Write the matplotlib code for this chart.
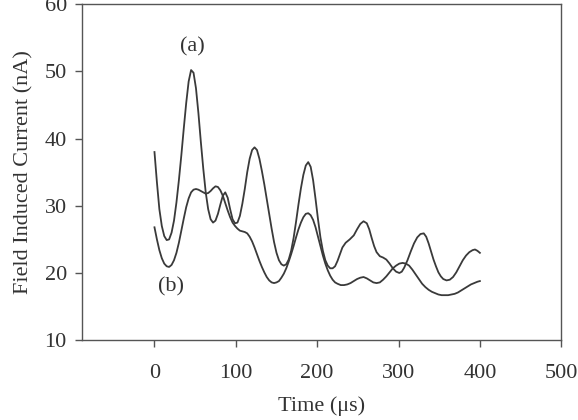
import matplotlib.pyplot as plt
import numpy as np

plt.rcParams['font.family'] = ['Liberation Serif', 'DejaVu Serif']

# curve (a)
t_a = [0, 3, 6, 9, 12, 15, 18, 21, 24, 27, 30, 33, 36, 39, 42, 45, 48, 51, 54, 57,
       60, 63, 66, 69, 72, 75, 78, 81, 84, 87, 90, 93, 96, 99, 102, 105, 108, 111,
       114, 117, 120, 123, 126, 129, 132, 135, 138, 141, 144, 147, 150, 153, 156,
       159, 162, 165, 168, 171, 174, 177, 180, 183, 186, 189, 192, 195, 198, 201,
       204, 207, 210, 213, 216, 219, 222, 225, 228, 231, 235, 240, 245, 249, 253,
       257, 261, 264, 267, 270, 273, 277, 281, 285, 289, 293, 297, 301, 304, 307,
       311, 315, 319, 323, 327, 331, 334, 337, 340, 343, 346, 349, 352, 355, 359,
       363, 367, 371, 375, 379, 383, 387, 391, 394, 397, 400]
i_a = [38.0, 33.5, 29.5, 27.0, 25.5, 24.9, 25.0, 26.0, 27.8, 30.5, 33.8, 37.5, 41.5,
       45.3, 48.5, 50.2, 49.8, 47.5, 43.8, 39.5, 35.5, 32.0, 29.5, 28.0, 27.5, 27.8,
       28.8, 30.2, 31.5, 32.0, 31.2, 29.5, 28.0, 27.4, 27.5, 28.5, 30.3, 32.5, 35.0,
       37.0, 38.3, 38.7, 38.3, 37.0, 35.2, 33.2, 31.0, 28.8, 26.6, 24.6, 23.0, 21.9,
       21.3, 21.1, 21.3, 22.0, 23.3, 25.2, 27.6, 30.2, 32.6, 34.6, 36.0, 36.5, 35.8,
       33.8, 31.0, 28.0, 25.3, 23.3, 21.9, 21.1, 20.7, 20.7, 21.0, 21.8, 22.8, 23.8,
       24.5, 25.0, 25.6, 26.5, 27.3, 27.7, 27.4, 26.5, 25.2, 24.0, 23.1, 22.5, 22.3,
       22.0, 21.4, 20.7, 20.2, 20.0, 20.2, 20.8, 21.9, 23.2, 24.4, 25.3, 25.8, 25.9,
       25.4, 24.4, 23.2, 22.0, 21.0, 20.1, 19.5, 19.1, 18.9, 19.0, 19.4, 20.1, 21.0,
       21.9, 22.6, 23.1, 23.4, 23.5, 23.3, 23.0]

# curve (b)
t_b = [0, 3, 6, 9, 12, 15, 18, 21, 24, 27, 30, 33, 36, 39, 42, 45, 48, 51, 54, 57,
       60, 63, 66, 69, 72, 75, 78, 81, 84, 87, 90, 93, 96, 99, 102, 105, 108, 111,
       114, 117, 120, 123, 126, 129, 132, 135, 138, 141, 144, 147, 150, 153, 156,
       159, 162, 165, 168, 171, 174, 177, 180, 183, 186, 189, 192, 195, 198, 201,
       204, 207, 210, 213, 216, 219, 222, 225, 229, 233, 237, 241, 245, 249, 253,
       257, 261, 265, 269, 273, 277, 281, 285, 289, 293, 297, 301, 305, 309, 313,
       317, 321, 325, 329, 333, 337, 341, 345, 349, 353, 357, 361, 365, 369, 373,
       377, 381, 385, 389, 393, 397, 400]
i_b = [26.8, 25.0, 23.4, 22.2, 21.4, 21.0, 20.9, 21.2, 21.9, 23.0, 24.5, 26.3, 28.1,
       29.8, 31.1, 32.0, 32.4, 32.5, 32.4, 32.2, 32.0, 31.8, 31.9, 32.2, 32.6, 32.9,
       32.8, 32.3, 31.5, 30.4, 29.3, 28.3, 27.5, 27.0, 26.6, 26.3, 26.2, 26.1, 25.9,
       25.4, 24.7, 23.8, 22.8, 21.8, 20.9, 20.1, 19.4, 18.9, 18.6, 18.5, 18.6, 18.8,
       19.3, 19.9, 20.7, 21.7, 22.8, 24.0, 25.3, 26.5, 27.5, 28.3, 28.8, 28.9, 28.6,
       27.9, 26.8, 25.4, 24.0, 22.6, 21.4, 20.4, 19.6, 19.0, 18.6, 18.4, 18.2, 18.2,
       18.3, 18.5, 18.8, 19.1, 19.3, 19.4, 19.2, 18.9, 18.6, 18.5, 18.6, 19.0, 19.5,
       20.1, 20.7, 21.1, 21.4, 21.5, 21.4, 21.1, 20.5, 19.8, 19.1, 18.4, 17.9, 17.5,
       17.2, 17.0, 16.8, 16.7, 16.7, 16.7, 16.8, 16.9, 17.1, 17.4, 17.7, 18.0, 18.3,
       18.5, 18.7, 18.8]

fig = plt.figure(figsize=(5.78, 4.2), dpi=100)
ax = fig.add_axes([0.142, 0.19, 0.829, 0.80])

line_col = '#3a3a3a'
ax.plot(t_a, i_a, color=line_col, lw=1.3, solid_joinstyle='round')
ax.plot(t_b, i_b, color=line_col, lw=1.3, solid_joinstyle='round')

ax.text(46, 53.6, '(a)', fontsize=16, ha='center', va='center', color='#333333')
ax.text(20, 17.9, '(b)', fontsize=16, ha='center', va='center', color='#333333')

ax.set_xlim(-89, 500)
ax.set_ylim(10, 60)
ax.set_xticks([0, 100, 200, 300, 400, 500])
ax.set_yticks([10, 20, 30, 40, 50, 60])

for s in ax.spines.values():
    s.set_color('#555555')
    s.set_linewidth(1.0)
ax.tick_params(direction='out', length=5, width=1.0, color='#555555',
               labelsize=16, labelcolor='#333333', pad=6)
ax.tick_params(axis='x', pad=12)

ax.set_xlabel('Time (\u03bcs)', fontsize=16, color='#333333', labelpad=10)
ax.set_ylabel('Field Induced Current (nA)', fontsize=16, color='#333333', labelpad=8)

fig.savefig('out.png', dpi=100)
